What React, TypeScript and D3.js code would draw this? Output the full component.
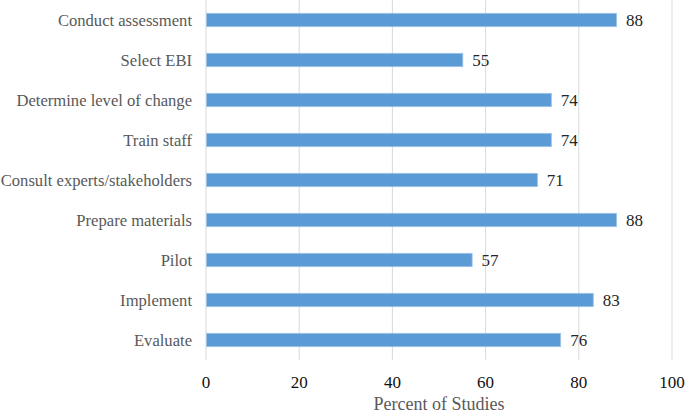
import * as React from "react"
import * as d3 from "d3"

const categories = [
  "Conduct assessment",
  "Select EBI",
  "Determine level of change",
  "Train staff",
  "Consult experts/stakeholders",
  "Prepare materials",
  "Pilot",
  "Implement",
  "Evaluate",
]
const values = [88, 55, 74, 74, 71, 88, 57, 83, 76]
const xTicks = [0, 20, 40, 60, 80, 100]

const width = 685
const height = 414
const margin = { top: 0, right: 13, bottom: 54, left: 206 }
const font = "Liberation Serif, Tinos, Times New Roman, DejaVu Serif, serif"

export default function App(): React.JSX.Element {
  const svgRef = React.useRef<SVGSVGElement>(null)

  React.useEffect(() => {
    const svg = d3.select(svgRef.current)
    svg.selectAll("*").remove()
    const w = width - margin.left - margin.right
    const h = height - margin.top - margin.bottom

    const x = d3.scaleLinear().domain([0, 100]).range([0, w])
    const y = d3.scaleBand().domain(categories).range([0, h]).paddingInner(2 / 3).paddingOuter(1 / 3)

    const g = svg.append("g").attr("transform", `translate(${margin.left},${margin.top})`)

    // gridlines
    g.selectAll(".grid")
      .data(xTicks)
      .join("line")
      .attr("class", "grid")
      .attr("x1", (d) => x(d))
      .attr("x2", (d) => x(d))
      .attr("y1", 0)
      .attr("y2", h)
      .attr("stroke", "#d9d9d9")
      .attr("stroke-width", 1)

    g.selectAll(".bar")
      .data(values)
      .join("rect")
      .attr("class", "bar")
      .attr("x", x(0) + 0.5)
      .attr("y", (_d, i) => y(categories[i]) as number)
      .attr("width", (d) => x(d) - x(0))
      .attr("height", y.bandwidth())
      .attr("fill", "#5b9bd5")
      .attr("stroke", "#9dc3e6")
      .attr("stroke-width", 0.8)

    g.selectAll(".val")
      .data(values)
      .join("text")
      .attr("class", "val")
      .attr("x", (d) => x(d) + 10)
      .attr("y", (_d, i) => (y(categories[i]) as number) + y.bandwidth() / 2)
      .attr("dy", "0.36em")
      .style("font-family", font)
      .attr("font-size", "17px")
      .attr("fill", "#262626")
      .text((d) => d)

    g.selectAll(".cat")
      .data(categories)
      .join("text")
      .attr("class", "cat")
      .attr("x", -14)
      .attr("y", (d) => (y(d) as number) + y.bandwidth() / 2)
      .attr("dy", "0.36em")
      .attr("text-anchor", "end")
      .style("font-family", font)
      .attr("font-size", "16.6px")
      .attr("fill", "#595959")
      .text((d) => d)

    g.selectAll(".tick")
      .data(xTicks)
      .join("text")
      .attr("class", "tick")
      .attr("x", (d) => x(d))
      .attr("y", h + 28)
      .attr("text-anchor", "middle")
      .style("font-family", font)
      .attr("font-size", "17px")
      .attr("fill", "#111")
      .text((d) => d)

    g.append("text")
      .attr("x", w / 2)
      .attr("y", h + 50)
      .attr("text-anchor", "middle")
      .style("font-family", font)
      .attr("font-size", "18px")
      .attr("fill", "#595959")
      .text("Percent of Studies")
  }, [])

  return (
    <div style={{ position: "absolute", left: 0, top: 0 }}>
      <svg ref={svgRef} width={width} height={height} style={{ display: "block", background: "#fff" }} />
    </div>
  )
}
